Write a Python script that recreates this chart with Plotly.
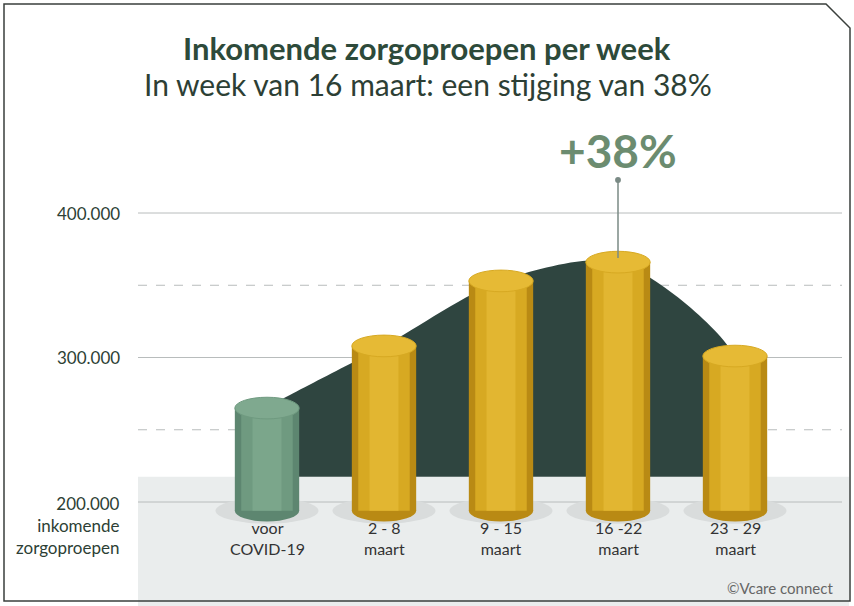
import plotly.graph_objects as go

categories = ["voor<br>COVID-19", "2 - 8<br>maart", "9 - 15<br>maart", "16 -22<br>maart", "23 - 29<br>maart"]
values = [265000, 308000, 353000, 366000, 301000]
grid_solid = [400000, 300000, 200000]
grid_dashed = [350000, 250000]
tick_labels = {400000: "400.000", 300000: "300.000", 200000: "200.000<br>inkomende<br>zorgoproepen"}
band_top = 217500
bar_base = 194000
peak_label = "+38%"

W, H = 854, 606
XR = [(0 - 267) / 117, (854 - 267) / 117]
YR = [400000 - (606 - 213) / 1.445 * 1000, 400000 + 213 / 1.445 * 1000]
def px(x): return x / W
def py(y): return 1 - y / H

xs = list(range(len(values)))
fig = go.Figure()

shapes = []
shapes.append(dict(type="rect", xref="paper", yref="y", x0=px(138), x1=px(849), y0=YR[0], y1=band_top,
                   fillcolor="#eaeded", line_width=0, layer="below"))
for g in grid_solid:
    shapes.append(dict(type="line", xref="paper", yref="y", x0=px(138), x1=px(842), y0=g, y1=g,
                       line=dict(color="#b8bcbc", width=1), layer="below"))
for g in grid_dashed:
    shapes.append(dict(type="line", xref="paper", yref="y", x0=px(138), x1=px(842), y0=g, y1=g,
                       line=dict(color="#b8bcbc", width=1, dash="dash"), layer="below"))

fig.add_trace(go.Scatter(x=[xs[0] - 0.05, xs[-1] + 0.12], y=[band_top, band_top], mode="lines",
                         line=dict(width=0), hoverinfo="skip", showlegend=False))
ax = [xs[0] - 0.05] + xs + [xs[-1] + 0.12]
ay = [values[0] - 4000] + values + [band_top]
fig.add_trace(go.Scatter(x=ax, y=ay, mode="lines", line=dict(width=0, shape="spline", smoothing=0.8),
                         fill="tonexty", fillcolor="#2f4540", hoverinfo="skip", showlegend=False))

bw = 0.55
eh = 7500
for i, v in enumerate(values):
    shapes.append(dict(type="circle", xref="x", yref="y", x0=i - bw * 0.8, x1=i + bw * 0.8,
                       y0=bar_base - 9000, y1=bar_base + 9000, fillcolor="#d9dcdc", line_width=0, layer="below"))
for i, v in enumerate(values):
    green = i == 0
    edge = "#5d8670" if green else "#b98a14"
    mid = "#6f9a80" if green else "#d7a922"
    hi = "#7ba68b" if green else "#e2b631"
    top = "#7fa98f" if green else "#e6ba35"
    shapes.append(dict(type="circle", xref="x", yref="y", x0=i - bw / 2, x1=i + bw / 2,
                       y0=bar_base - eh, y1=bar_base + eh, fillcolor=edge, line_width=0))
    for frac, col in [(1.0, edge), (0.8, mid), (0.45, hi)]:
        shapes.append(dict(type="rect", xref="x", yref="y", x0=i - bw * frac / 2, x1=i + bw * frac / 2,
                           y0=bar_base, y1=v, fillcolor=col, line_width=0))
    shapes.append(dict(type="circle", xref="x", yref="y", x0=i - bw / 2, x1=i + bw / 2,
                       y0=v - eh, y1=v + eh, fillcolor=top, line=dict(color=mid, width=1)))

path = (f"M {px(4)} {py(4)} L {px(826)} {py(4)} L {px(850)} {py(28)} "
        f"L {px(850)} {py(601)} L {px(4)} {py(601)} Z")
shapes.append(dict(type="path", xref="paper", yref="paper", path=path,
                   line=dict(color="#3a3f3c", width=1.5), fillcolor="rgba(0,0,0,0)"))

pk = values.index(max(values))
shapes.append(dict(type="line", xref="x", yref="paper", x0=pk, x1=pk, y0=py(180), y1=py(258),
                   line=dict(color="#7a8a85", width=1.5)))
shapes.append(dict(type="circle", xref="x", yref="paper", x0=pk - 0.025, x1=pk + 0.025,
                   y0=py(183), y1=py(177), fillcolor="#7a8a85", line_width=0))

C = dict(showarrow=False, xanchor="center", yanchor="middle")
ann = []
ann.append(dict(xref="x", yref="paper", x=pk, y=py(151), text=f"<b>{peak_label}</b>",
                font=dict(size=46, color="#6c8c70", family="Lato"), **C))
ann.append(dict(xref="paper", yref="paper", x=px(427), y=py(48), text="<b>Inkomende zorgoproepen per week</b>",
                font=dict(size=31, color="#2d4a3a", family="Lato"), **C))
ann.append(dict(xref="paper", yref="paper", x=px(428), y=py(84), text="In week van 16 maart: een stijging van 38%",
                font=dict(size=30, color="#2d3f35", family="Lato"), **C))
for val, lab in tick_labels.items():
    ann.append(dict(xref="paper", yref="y", x=px(122), y=val, text=lab, showarrow=False, xanchor="right",
                    yanchor="top" if val == 200000 else "middle", yshift=11 if val == 200000 else 0,
                    align="right", font=dict(size=17, color="#2d3f35", family="Lato")))
for i, c in enumerate(categories):
    ann.append(dict(xref="x", yref="paper", x=i, y=py(538), text=c,
                    font=dict(size=16, color="#333", family="Lato"), **C))
ann.append(dict(xref="paper", yref="paper", x=px(835), y=py(588), text="©Vcare connect", showarrow=False,
                xanchor="right", yanchor="middle", font=dict(size=15, color="#666", family="Lato")))

fig.update_layout(width=W, height=H, margin=dict(l=0, r=0, t=0, b=0),
                  plot_bgcolor="white", paper_bgcolor="white", shapes=shapes, annotations=ann,
                  xaxis=dict(range=XR, visible=False, fixedrange=True),
                  yaxis=dict(range=YR, visible=False, fixedrange=True), showlegend=False)
fig.write_html("out.html", config={"displayModeBar": False},
               post_script="document.body.style.margin='0';")
